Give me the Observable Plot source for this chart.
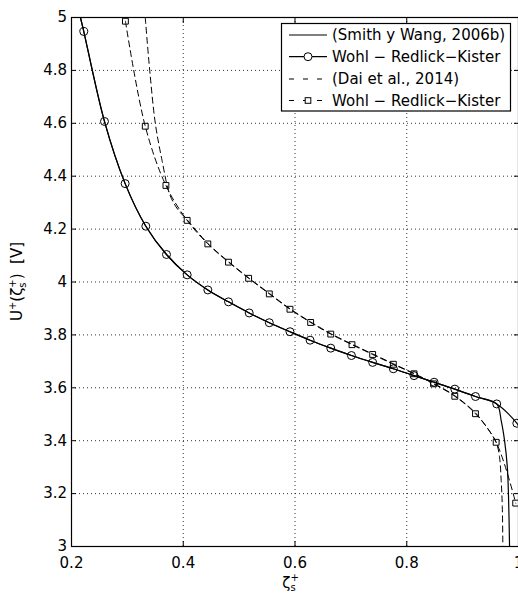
<!DOCTYPE html>
<html>
<head>
<meta charset="utf-8">
<script src="https://cdn.jsdelivr.net/npm/d3@7"></script>
<script src="https://cdn.jsdelivr.net/npm/@observablehq/plot@0.6"></script>
<style>
  html, body { margin: 0; padding: 0; background: #fff; }
  #chart svg { display: block; }
</style>
</head>
<body>
<div id="chart"></div>
<script>
// ---- tick values and labels ----
const xTicks = [0.2, 0.4, 0.6, 0.8, 1];
const xTickLabels = ["0.2", "0.4", "0.6", "0.8", "1"];
const yTicks = [3, 3.2, 3.4, 3.6, 3.8, 4, 4.2, 4.4, 4.6, 4.8, 5];
const yTickLabels = ["3", "3.2", "3.4", "3.6", "3.8", "4", "4.2", "4.4", "4.6", "4.8", "5"];

// ---- series: (Smith y Wang, 2006b), solid line ----
const smithX = [0.216, 0.222, 0.259, 0.296, 0.333, 0.370, 0.407, 0.444, 0.481, 0.518, 0.554, 0.591, 0.627, 0.664, 0.701, 0.739, 0.776, 0.813, 0.849, 0.886, 0.923, 0.961, 0.969, 0.975, 0.980, 0.982, 0.984];
const smithY = [5.0, 4.947, 4.607, 4.372, 4.211, 4.104, 4.027, 3.970, 3.925, 3.883, 3.846, 3.812, 3.780, 3.750, 3.722, 3.696, 3.672, 3.646, 3.621, 3.595, 3.567, 3.539, 3.476, 3.401, 3.30, 3.20, 3.0];

// ---- series: Wohl – Redlick–Kister (circles), solid line ----
const wrkLineX = [0.216, 0.222, 0.259, 0.296, 0.333, 0.370, 0.407, 0.444, 0.481, 0.518, 0.554, 0.591, 0.627, 0.664, 0.701, 0.739, 0.776, 0.813, 0.849, 0.886, 0.923, 0.961, 0.997, 1.0];
const wrkLineY = [5.0, 4.947, 4.607, 4.372, 4.211, 4.104, 4.027, 3.970, 3.925, 3.883, 3.846, 3.812, 3.780, 3.750, 3.722, 3.696, 3.672, 3.646, 3.621, 3.595, 3.567, 3.539, 3.466, 3.455];
const circX = [0.222, 0.259, 0.296, 0.333, 0.370, 0.407, 0.444, 0.481, 0.518, 0.554, 0.591, 0.627, 0.664, 0.701, 0.739, 0.776, 0.813, 0.849, 0.886, 0.923, 0.961, 0.997];
const circY = [4.947, 4.607, 4.372, 4.211, 4.104, 4.027, 3.970, 3.925, 3.883, 3.846, 3.812, 3.780, 3.750, 3.722, 3.696, 3.672, 3.646, 3.621, 3.595, 3.567, 3.539, 3.466];

// ---- series: (Dai et al., 2014), dashed line ----
const daiX = [0.332, 0.340, 0.350, 0.362, 0.376, 0.390, 0.407, 0.444, 0.481, 0.517, 0.554, 0.591, 0.628, 0.664, 0.702, 0.739, 0.776, 0.813, 0.848, 0.886, 0.923, 0.945, 0.960, 0.966, 0.969, 0.971, 0.972];
const daiY = [5.0, 4.8, 4.6, 4.46, 4.33, 4.275, 4.235, 4.146, 4.077, 4.016, 3.957, 3.899, 3.849, 3.805, 3.765, 3.728, 3.691, 3.654, 3.617, 3.570, 3.505, 3.445, 3.394, 3.338, 3.25, 3.15, 3.0];

// ---- series: Wohl – Redlick–Kister (squares), dashed line ----
const sqX = [0.2965, 0.332, 0.369, 0.407, 0.444, 0.481, 0.517, 0.554, 0.591, 0.628, 0.664, 0.702, 0.739, 0.776, 0.813, 0.848, 0.886, 0.923, 0.960, 0.995];
const sqY = [4.986, 4.589, 4.365, 4.233, 4.144, 4.075, 4.014, 3.955, 3.897, 3.847, 3.803, 3.763, 3.726, 3.689, 3.653, 3.615, 3.568, 3.502, 3.394, 3.164];

const legendLabels = ["(Smith y Wang, 2006b)", "Wohl \u2212 Redlick\u2212Kister", "(Dai et al., 2014)", "Wohl \u2212 Redlick\u2212Kister"];

// ---- build tables ----
const zip = (xs, ys) => xs.map((x, i) => ({x, y: ys[i]}));
const smith = zip(smithX, smithY);
const wrkLine = zip(wrkLineX, wrkLineY);
const circles = zip(circX, circY);
const dai = zip(daiX, daiY);
const squares = zip(sqX, sqY);

const FONT = "DejaVu Sans";
const FS = 15;
const DASH = "6,4";

const plot = Plot.plot({
  width: 518,
  height: 593,
  marginLeft: 71,
  marginRight: 0,
  marginTop: 17,
  marginBottom: 47,
  style: {fontFamily: FONT, fontSize: FS + "px", background: "#fff", color: "#000", overflow: "visible"},
  x: {domain: [0.2, 1]},
  y: {domain: [3, 5]},
  marks: [
    Plot.gridX(xTicks, {stroke: "#000", strokeOpacity: 0.8, strokeDasharray: "1,3", strokeWidth: 1}),
    Plot.gridY(yTicks, {stroke: "#000", strokeOpacity: 0.8, strokeDasharray: "1,3", strokeWidth: 1}),
    Plot.line(smith, {x: "x", y: "y", curve: "catmull-rom", stroke: "#000", strokeWidth: 1.2, clip: true}),
    Plot.line(wrkLine, {x: "x", y: "y", curve: "catmull-rom", stroke: "#000", strokeWidth: 1.2, clip: true}),
    Plot.dot(circles, {x: "x", y: "y", r: 4, symbol: "circle", fill: "none", stroke: "#000", strokeWidth: 1}),
    Plot.line(dai, {x: "x", y: "y", curve: "catmull-rom", stroke: "#000", strokeWidth: 1, strokeDasharray: DASH, clip: true}),
    Plot.line(squares, {x: "x", y: "y", curve: "catmull-rom", stroke: "#000", strokeWidth: 1, strokeDasharray: DASH, clip: true}),
    Plot.dot(squares, {x: "x", y: "y", r: 3.3, symbol: "square", fill: "none", stroke: "#000", strokeWidth: 1}),
    Plot.frame({stroke: "#000", strokeWidth: 1.2}),
    // inward ticks on all four sides
    Plot.axisX(xTicks, {anchor: "bottom", tickSize: -5, fill: "none", tickFormat: () => "", label: null}),
    Plot.axisX(xTicks, {anchor: "top", tickSize: -5, fill: "none", tickFormat: () => "", label: null}),
    Plot.axisY(yTicks, {anchor: "left", tickSize: -5, fill: "none", tickFormat: () => "", label: null}),
    Plot.axisY(yTicks, {anchor: "right", tickSize: -5, fill: "none", tickFormat: () => "", label: null}),
    // tick labels
    Plot.axisX(xTicks, {anchor: "bottom", tickSize: 0, tickPadding: 11, tickFormat: d => xTickLabels[xTicks.indexOf(d)], label: null, fill: "#000"}),
    Plot.axisY(yTicks, {anchor: "left", tickSize: 0, tickPadding: 4.5, tickFormat: d => yTickLabels[yTicks.findIndex(t => Math.abs(t - d) < 1e-9)], label: null, fill: "#000"})
  ]
});

document.getElementById("chart").appendChild(plot);

// ---- axis titles (with sub/superscripts) ----
const svg = d3.select(plot);
const sx = plot.scale("x"), sy = plot.scale("y");
const plotLeft = sx.range[0], plotRight = sx.range[1];
const plotTop = sy.range[1], plotBottom = sy.range[0];

// x title: ζ_s^+
const xt = svg.append("text")
  .attr("x", (plotLeft + plotRight) / 2 - 4)
  .attr("y", 588)
  .attr("text-anchor", "middle")
  .attr("font-family", FONT).attr("font-size", FS).attr("fill", "#000");
xt.append("tspan").text("\u03B6");
xt.append("tspan").attr("font-size", 10).attr("dy", 3).text("s");
xt.append("tspan").attr("font-size", 10).attr("dx", -5.2).attr("dy", -10).text("+");

// y title: U^+(ζ_s^+)  [V]
const yt = svg.append("text")
  .attr("transform", `translate(22,${(plotTop + plotBottom) / 2}) rotate(-90)`)
  .attr("text-anchor", "middle")
  .attr("font-family", FONT).attr("font-size", FS).attr("fill", "#000");
yt.append("tspan").text("U");
yt.append("tspan").attr("font-size", 10).attr("dy", -6).text("+");
yt.append("tspan").attr("dy", 6).text("(\u03B6");
yt.append("tspan").attr("font-size", 10).attr("dy", 4).text("s");
yt.append("tspan").attr("font-size", 10).attr("dx", -5.2).attr("dy", -10).text("+");
yt.append("tspan").attr("dy", 6).text(")\u00A0\u00A0[V]");

// ---- legend ----
const lg = svg.append("g").attr("font-family", FONT).attr("font-size", FS).attr("text-anchor", "start");
const LX = 281.5, LY = 23.5, LW = 229, LH = 87.5;
lg.append("rect").attr("x", LX).attr("y", LY).attr("width", LW).attr("height", LH)
  .attr("fill", "#fff").attr("stroke", "#000").attr("stroke-width", 1.2);
const rowY = [35, 56.7, 79, 100.5];
const sx0 = 289, sx1 = 327, smid = 308;
legendLabels.forEach((lab, i) => {
  const yy = rowY[i];
  const dashed = i >= 2;
  lg.append("line").attr("x1", sx0).attr("x2", sx1).attr("y1", yy).attr("y2", yy)
    .attr("stroke", "#000").attr("stroke-width", dashed ? 1 : 1.2)
    .attr("stroke-dasharray", dashed ? "5,9" : null);
  if (i === 1) {
    lg.append("circle").attr("cx", smid).attr("cy", yy).attr("r", 4)
      .attr("fill", "#fff").attr("stroke", "#000");
  }
  if (i === 3) {
    lg.append("rect").attr("x", smid - 2.8).attr("y", yy - 2.8).attr("width", 5.6).attr("height", 5.6)
      .attr("fill", "#fff").attr("stroke", "#000");
  }
  lg.append("text").attr("x", 332).attr("y", yy).attr("dy", "0.36em")
    .attr("text-anchor", "start").attr("fill", "#000").text(lab);
});
</script>
</body>
</html>
